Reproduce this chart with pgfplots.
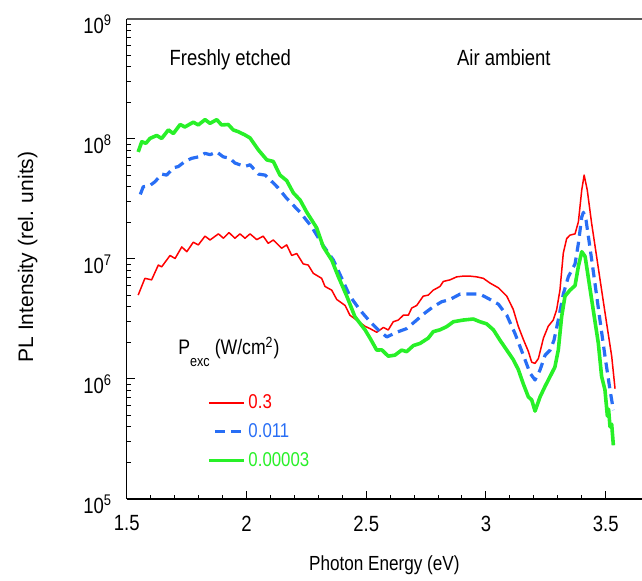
\documentclass[border=0pt]{standalone}
\usepackage{fontspec}
\setmainfont{Liberation Sans}[FakeStretch=0.84]
\newfontfamily\widefont{Liberation Sans}
\usepackage{pgfplots}
\pgfplotsset{compat=1.18}

\definecolor{plred}{RGB}{255,0,0}
\definecolor{plblue}{RGB}{40,110,245}
\definecolor{plgreen}{RGB}{40,240,40}

% PL spectra, P_exc = 0.3 W/cm^2
\pgfplotstableread{
x y
1.548 5.0e6
1.576 6.9e6
1.604 6.7e6
1.632 8.9e6
1.646 8.6e6
1.681 1.07e7
1.702 1.01e7
1.730 1.26e7
1.751 1.15e7
1.778 1.38e7
1.799 1.31e7
1.827 1.55e7
1.848 1.44e7
1.883 1.62e7
1.904 1.49e7
1.927 1.66e7
1.952 1.49e7
1.973 1.62e7
1.994 1.49e7
2.015 1.62e7
2.043 1.45e7
2.070 1.55e7
2.091 1.35e7
2.112 1.44e7
2.147 1.23e7
2.168 1.31e7
2.189 1.07e7
2.210 1.11e7
2.237 9.1e6
2.258 8.9e6
2.279 7.6e6
2.314 6.9e6
2.328 5.9e6
2.356 5.5e6
2.377 4.6e6
2.412 4.1e6
2.432 3.4e6
2.460 3.1e6
2.495 2.75e6
2.516 2.63e6
2.544 2.45e6
2.572 2.69e6
2.592 2.56e6
2.613 3.0e6
2.634 3.1e6
2.655 3.4e6
2.676 3.4e6
2.690 3.9e6
2.711 4.1e6
2.738 4.9e6
2.759 5.0e6
2.780 5.5e6
2.808 5.9e6
2.822 6.5e6
2.850 6.7e6
2.878 7.1e6
2.906 7.2e6
2.933 7.2e6
2.961 7.1e6
2.989 6.9e6
3.017 6.3e6
3.052 5.75e6
3.087 4.9e6
3.114 3.8e6
3.135 2.75e6
3.156 2.14e6
3.177 1.7e6
3.191 1.38e6
3.205 1.35e6
3.219 1.48e6
3.240 2.19e6
3.260 2.75e6
3.281 3.1e6
3.295 3.76e6
3.309 5.5e6
3.323 1.12e7
3.337 1.48e7
3.351 1.58e7
3.372 1.62e7
3.386 2.04e7
3.400 3.76e7
3.410 5.0e7
3.423 3.76e7
3.441 2.0e7
3.462 1.05e7
3.483 5.5e6
3.504 2.9e6
3.525 1.55e6
3.539 8.3e5
}\redtable

% P_exc = 0.011 W/cm^2
\pgfplotstableread{
x y
1.548 3.1e7
1.569 4.0e7
1.597 4.1e7
1.618 4.4e7
1.646 5.1e7
1.667 5.0e7
1.695 5.75e7
1.716 5.9e7
1.743 6.5e7
1.771 6.9e7
1.800 7.1e7
1.827 7.6e7
1.848 7.4e7
1.876 7.8e7
1.903 7.1e7
1.931 6.9e7
1.952 6.3e7
1.994 5.9e7
2.015 6.1e7
2.050 5.1e7
2.078 5.0e7
2.112 4.3e7
2.133 3.9e7
2.168 3.2e7
2.224 2.45e7
2.272 1.86e7
2.314 1.35e7
2.363 9.8e6
2.398 6.9e6
2.432 4.9e6
2.474 3.76e6
2.516 3.0e6
2.550 2.57e6
2.586 2.24e6
2.627 2.45e6
2.669 2.63e6
2.711 3.1e6
2.745 3.55e6
2.780 4.0e6
2.815 4.4e6
2.850 4.6e6
2.892 5.1e6
2.933 5.1e6
2.975 5.1e6
3.017 4.6e6
3.052 4.2e6
3.087 3.4e6
3.121 2.4e6
3.156 1.58e6
3.184 1.12e6
3.205 9.8e5
3.226 1.19e6
3.247 1.58e6
3.268 1.74e6
3.284 2.1e6
3.302 3.1e6
3.323 5.1e6
3.344 7.1e6
3.372 9.1e6
3.386 1.35e7
3.400 2.24e7
3.407 2.45e7
3.418 2.1e7
3.434 1.26e7
3.455 6.3e6
3.476 3.1e6
3.497 1.55e6
3.518 8.1e5
3.532 5.5e5
}\bluetable

% P_exc = 0.00003 W/cm^2
\pgfplotstableread{
x y
1.548 7.8e7
1.563 9.5e7
1.580 9.2e7
1.597 1.01e8
1.625 1.07e8
1.646 1.01e8
1.674 1.19e8
1.695 1.11e8
1.723 1.32e8
1.743 1.26e8
1.778 1.38e8
1.799 1.31e8
1.827 1.45e8
1.848 1.35e8
1.876 1.45e8
1.896 1.31e8
1.924 1.32e8
1.945 1.19e8
1.966 1.15e8
1.994 1.08e8
2.015 1.02e8
2.050 8.1e7
2.085 6.7e7
2.112 6.5e7
2.140 5.0e7
2.168 4.5e7
2.196 3.55e7
2.224 3.1e7
2.252 2.45e7
2.293 1.82e7
2.321 1.26e7
2.356 9.8e6
2.384 7.1e6
2.419 4.9e6
2.453 3.3e6
2.495 2.57e6
2.516 2.19e6
2.544 1.74e6
2.565 1.75e6
2.592 1.55e6
2.620 1.58e6
2.648 1.74e6
2.669 1.69e6
2.697 1.9e6
2.725 1.98e6
2.759 2.19e6
2.780 2.48e6
2.808 2.57e6
2.836 2.73e6
2.864 3.0e6
2.906 3.1e6
2.947 3.16e6
2.975 3.0e6
3.003 2.88e6
3.031 2.57e6
3.059 2.1e6
3.087 1.74e6
3.114 1.45e6
3.135 1.2e6
3.156 9.1e5
3.177 7.1e5
3.191 6.7e5
3.205 5.4e5
3.226 7.1e5
3.247 8.7e5
3.268 1.05e6
3.288 1.26e6
3.302 1.74e6
3.316 3.3e6
3.330 4.9e6
3.351 5.5e6
3.372 6.0e6
3.386 8.7e6
3.400 1.15e7
3.414 1.05e7
3.427 7.1e6
3.448 3.76e6
3.469 2.0e6
3.483 1.05e6
3.497 8.1e5
3.507 4.9e5
3.512 5.6e5
3.518 4.0e5
3.525 4.2e5
3.532 2.8e5
}\greentable

\begin{document}
\begin{tikzpicture}
\begin{axis}[
  scale only axis,
  width=257.65pt, height=240pt,
  xmin=1.5, xmax=3.6516,
  ymode=log, ymin=1e5, ymax=1e9,
  axis x line*=bottom, axis y line*=left,
  axis line style={-, line width=0.7pt},
  tick align=inside,
  major tick length=4pt, minor tick length=2pt,
  every tick/.style={black, line width=0.5pt},
  xtick={1.5,2,2.5,3,3.5},
  xticklabels={1.5,2,2.5,3,3.5},
  minor x tick num=4,
  ytick={1e5,1e6,1e7,1e8,1e9},
  yticklabels={10\textsuperscript{5},10\textsuperscript{6},10\textsuperscript{7},10\textsuperscript{8},10\textsuperscript{9}},
  tick label style={font=\fontsize{11}{13}\selectfont},
  xticklabel style={yshift=-4.8pt},
  yticklabel style={xshift=-3.8pt, yshift=-2.8pt},
  xlabel={Photon Energy (eV)},
  ylabel={PL Intensity (rel. units)},
  every axis x label/.style={at={(axis description cs:0.5,0)}, anchor=base, yshift=-35.85pt,
    font=\fontsize{10.2}{12}\selectfont},
  every axis y label/.style={at={(axis description cs:-0.1818,0.504)}, anchor=base, rotate=90,
    font=\widefont\fontsize{10.5}{12}\selectfont},
  clip=false,
  legend style={draw=none, fill=none, at={(axis description cs:0.156,0.2256)}, anchor=north west,
    inner sep=0pt, row sep=3.05pt, font=\fontsize{10}{12}\selectfont,
    nodes={inner sep=1.5pt}},
  legend cell align=left,
  legend image code/.code={\draw[#1] (0pt,0pt) -- (17.5pt,0pt);},
]
\coordinate (origin) at (rel axis cs:0,0);
\draw[gray!70!black, line width=0.7pt] (rel axis cs:0,1) -- (rel axis cs:1,1);

\addplot[color=plred, line width=0.75pt, line join=round, forget plot] table {\redtable};
\addplot[color=plblue, line width=1.6pt, dash pattern=on 5pt off 3pt, dash phase=5pt, line join=round, forget plot] table {\bluetable};
\addplot[color=plgreen, line width=1.8pt, line join=round, forget plot] table {\greentable};

\addlegendimage{color=plred, line width=1pt}
\addlegendentry{\textcolor{plred}{0.3}}
\addlegendimage{color=plblue, line width=1.3pt, dash pattern=on 5pt off 3pt, dash phase=5pt}
\addlegendentry{\textcolor{plblue}{0.011}}
\addlegendimage{color=plgreen, line width=1.5pt}
\addlegendentry{\textcolor{plgreen}{0.00003}}

\node[anchor=base, font=\fontsize{11}{13}\selectfont] at (axis description cs:0.201,0.904) {Freshly etched};
\node[anchor=base, font=\fontsize{11}{13}\selectfont] at (axis description cs:0.732,0.904) {Air ambient};
\node[anchor=base west, inner sep=0pt, font=\fontsize{10.5}{12}\selectfont] at (axis description cs:0.0996,0.30)
  {P\raisebox{-5.8pt}{\fontsize{7.5}{9}\selectfont exc}\hspace{2.5pt}(W/cm\textsuperscript{2})};
\end{axis}
\pgfresetboundingbox
\path[use as bounding box] ([shift={(-63.35pt,-41pt)}]origin) rectangle ([shift={(257.65pt,249.5pt)}]origin);
\end{tikzpicture}
\end{document}
